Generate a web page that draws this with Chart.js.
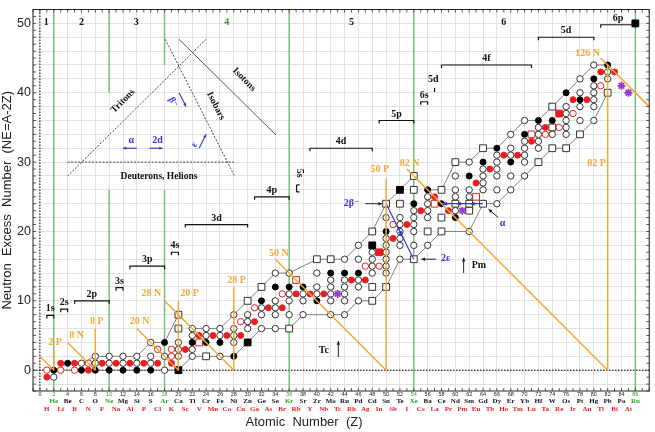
<!DOCTYPE html>
<html>
<head>
<meta charset="utf-8">
<title>Neutron excess chart</title>
<script src="https://cdn.jsdelivr.net/npm/chart.js@4/dist/chart.umd.min.js"></script>
<style>
  html, body { margin: 0; padding: 0; background: #ffffff; }
  canvas { display: block; }
</style>
</head>
<body>
<canvas id="nuclideChart" width="655" height="432"></canvas>
<script>
// =====================================
// DATA   points are [Z, NE] with NE = A - 2Z
// =====================================

// even Z, most abundant isotope
const evenMain = [[2,0],[4,1],[6,0],[8,0],[10,0],[12,0],[14,0],[16,0],[18,4],[22,4],[24,4],[26,4],[28,2],[32,10],[34,12],[36,12],[38,12],[40,10],[42,14],[44,14],[46,14],[50,20],[54,24],[56,26],[58,24],[60,22],[62,28],[64,30],[66,32],[68,30],[70,34],[72,36],[74,36],[76,40],[78,39],[80,42],[82,44]];

// even Z, other stable isotopes
const evenOther = [[2,-1],[6,1],[8,1],[8,2],[10,1],[10,2],[12,1],[12,2],[14,1],[14,2],[16,1],[16,2],[16,4],[18,0],[18,2],[20,2],[20,3],[20,4],[22,2],[22,3],[22,5],[22,6],[24,5],[24,6],[26,2],[26,5],[26,6],[28,4],[28,5],[28,6],[28,8],[30,6],[30,7],[30,8],[32,6],[32,8],[32,9],[34,6],[34,8],[34,9],[34,10],[34,14],[36,8],[36,10],[36,11],[36,14],[38,8],[38,10],[38,11],[40,11],[40,12],[40,14],[42,8],[42,10],[42,11],[42,12],[42,13],[44,8],[44,10],[44,11],[44,12],[44,13],[44,16],[46,10],[46,12],[46,13],[46,16],[46,18],[48,14],[48,15],[48,16],[48,17],[50,14],[50,15],[50,16],[50,17],[50,18],[50,19],[50,22],[52,16],[52,18],[52,19],[52,20],[52,21],[52,22],[54,18],[54,20],[54,21],[54,22],[54,23],[56,18],[56,22],[56,23],[56,24],[56,25],[60,23],[60,25],[60,26],[60,28],[62,20],[62,25],[62,26],[62,30],[64,26],[64,27],[64,28],[64,29],[66,24],[66,26],[66,28],[66,29],[66,30],[66,31],[68,26],[68,28],[68,31],[68,32],[68,34],[70,28],[70,30],[70,31],[70,32],[70,33],[70,36],[72,32],[72,33],[72,34],[72,35],[74,34],[76,34],[76,35],[76,36],[76,37],[76,38],[78,36],[78,38],[78,40],[78,42],[80,36],[80,38],[80,39],[80,40],[80,41],[80,44],[82,42],[82,43]];

// odd Z, most abundant isotope
const oddMain = [[1,-1],[3,1],[5,1],[7,0],[9,1],[11,1],[13,1],[15,1],[17,1],[19,1],[21,3],[23,5],[25,5],[27,5],[29,5],[31,7],[33,9],[35,9],[37,11],[39,11],[41,11],[45,13],[47,13],[51,19],[53,21],[55,23],[57,25],[59,23],[63,27],[65,29],[67,31],[69,31],[71,33],[73,35],[77,39],[79,39],[81,43],[83,43]];

// odd Z, other stable isotopes
const oddOther = [[1,0],[3,0],[5,0],[7,1],[17,3],[19,2],[19,3],[29,7],[31,9],[35,11],[47,15],[49,15],[51,21],[73,34],[75,35],[77,37],[81,41]];

// very long lived (squares)
const evenRare = [[20,6],[20,8],[24,2],[30,10],[32,12],[36,6],[40,16],[42,16],[48,10],[48,12],[48,20],[50,12],[50,24],[52,24],[54,16],[54,26],[54,28],[56,20],[58,20],[58,22],[58,26],[60,24],[60,30],[62,23],[62,24],[64,24],[64,32],[72,30],[74,32],[74,35],[74,38],[76,32],[78,34],[82,40]];
const evenRareMain = [[20,0],[30,4],[48,18],[52,26],[86,50]];
const oddRare = [[23,4],[37,13],[57,24],[63,25],[71,34]];
const oddRareMain = [[49,17],[75,37]];

// elements with no stable isotope
const noStable = [[43,11],[61,23],[84,41],[85,40]];

// band edges
const upperZ  = [2,4,6,8,14,16,18,20,22,24,26,28,30,32,34,36,40,42,44,46,48,50,52,54,56,58,60,62,64,66,68,70,72,74,76,78,80,82];
const upperNE = [0,1,1,2,2,4,4,8,6,6,6,8,10,12,14,14,16,16,16,18,20,24,26,28,26,26,30,30,32,32,34,36,36,38,40,42,44,44];
const lowerZ  = [2,20,22,28,30,32,36,38,42,44,46,48,50,52,54,56,58,62,64,66,68,70,72,74,76,78,80,82];
const lowerNE = [0,0,2,2,4,6,6,8,8,8,10,10,12,16,16,18,20,20,24,24,26,28,30,32,32,34,36,40];

// magic numbers
const magicN     = [2, 8, 20, 28, 50, 82, 126];
const magicNFrom = [0, 4, 14, 18, 34, 53, 81];
const magicNTo   = [2, 8, 20, 28, 50, 82, 88];
const magicP     = [2, 8, 20, 28, 50, 82];
const magicPTop  = [3, 6, 10, 12, 27.6, 44];

// noble gases
const nobleZ = [2, 10, 18, 36, 54, 86];

// tick labels
const evenSymbols = ['', 'He','Be','C','O','Ne','Mg','Si','S','Ar','Ca','Ti','Cr','Fe','Ni','Zn','Ge','Se','Kr','Sr','Zr','Mo','Ru','Pd','Cd','Sn','Te','Xe','Ba','Ce','Nd','Sm','Gd','Dy','Er','Yb','Hf','W','Os','Pt','Hg','Pb','Po','Rn'];
const oddSymbols = ['H','Li','B','N','F','Na','Al','P','Cl','K','Sc','V','Mn','Co','Cu','Ga','As','Br','Rb','Y','Nb','Tc','Rh','Ag','In','Sb','I','Cs','La','Pr','Pm','Eu','Tb','Ho','Tm','Lu','Ta','Re','Ir','Au','Tl','Bi','At'];


// =====================================
// STYLE
// =====================================

const SERIF = '"Liberation Serif", "DejaVu Serif", serif';
const SANS = '"Liberation Sans", Arial, sans-serif';
const GREEN = '#6cbf6c';
const GREEN_TEXT = '#2f9f2f';
const ORANGE = '#f5a733';
const RED = '#ec1c1c';
const BLUE = '#3434d8';
const PURPLE = '#9a3ad0';


// =====================================
// HELPERS
// =====================================

function pts(list){
    return list.map(p => ({x: p[0], y: p[1]}));
}

function marks(list, style, radius, fill, edge, order){
    return {
        data: pts(list),
        showLine: false,
        pointStyle: style,
        pointRadius: radius,
        backgroundColor: fill,
        borderColor: edge,
        borderWidth: 1,
        order: order
    };
}

function path(points, color, width, dash, order){
    return {
        data: points,
        showLine: true,
        pointRadius: 0,
        borderColor: color,
        borderWidth: width,
        borderDash: dash || [],
        fill: false,
        order: order
    };
}

const datasets = [];

// band edges
datasets.push(path(upperZ.map((z,i) => ({x: z, y: upperNE[i]})), '#808080', 1, null, 5));
datasets.push(path(lowerZ.map((z,i) => ({x: z, y: lowerNE[i]})), '#808080', 1, null, 5));

// noble gas columns (cut where the inset sits)
nobleZ.forEach(z => {
    if(z === 10 || z === 18){
        datasets.push(path([{x:z,y:-3},{x:z,y:26}], GREEN, 1.4, null, 6));
        datasets.push(path([{x:z,y:z === 10 ? 40 : 44},{x:z,y:52}], GREEN, 1.4, null, 6));
    } else {
        datasets.push(path([{x:z,y:-3},{x:z,y:52}], GREEN, 1.4, null, 6));
    }
});

// magic neutron lines (NE = N - Z) and proton lines
magicN.forEach((n,i) => {
    datasets.push(path([{x:magicNFrom[i], y:n - magicNFrom[i]}, {x:magicNTo[i], y:n - magicNTo[i]}], ORANGE, 1.5, null, 1));
});
magicP.forEach((p,i) => {
    datasets.push(path([{x:p, y:0}, {x:p, y:magicPTop[i]}], ORANGE, 1.5, null, 1));
});

// inset: decay directions
datasets.push(path([{x:4,y:28},{x:24,y:47.7}], '#333', 0.9, [2,1.5], 4));
datasets.push(path([{x:18.1,y:47.7},{x:28.1,y:28}], '#333', 0.9, [2,1.5], 4));
datasets.push(path([{x:20.1,y:47.7},{x:34.1,y:33.9}], '#444', 0.9, null, 4));
datasets.push(path([{x:4,y:30},{x:28,y:30}], '#333', 0.9, [2,1.5], 4));

// blue decay paths
datasets.push(path([{x:50,y:24},{x:54,y:16}], BLUE, 1.2, null, 1));
datasets.push(path([{x:64,y:24},{x:58,y:24}], BLUE, 1.2, null, 1));

// nuclides
datasets.push(marks(evenOther, 'circle', 3.2, '#ffffff', '#333333', 2));
datasets.push(marks(oddOther, 'circle', 3.2, '#ffffff', RED, 2));
datasets.push(marks(evenMain, 'circle', 3, '#000000', '#000000', 2));
datasets.push(marks(oddMain, 'circle', 3, RED, RED, 2));
datasets.push(marks(evenRare, 'rect', 4.8, '#ffffff', '#333333', 2));
datasets.push(marks(oddRare, 'rect', 4.8, '#ffffff', RED, 2));
datasets.push(marks(evenRareMain, 'rect', 4.8, '#000000', '#000000', 2));
datasets.push(marks(oddRareMain, 'rect', 4.8, RED, RED, 2));
const stars = marks(noStable, 'star', 4, PURPLE, PURPLE, 2);
stars.borderWidth = 1.8;
datasets.push(stars);


// =====================================
// ANNOTATIONS
// =====================================

const periodLabels = [['1',0.9],['2',6],['3',13.9],['4',27],['5',45],['6',67]];

const shellBrackets = [
    ['1s',1,2,7.9], ['2s',3,4,8.8], ['2p',5,10,10], ['3s',11,12,11.9],
    ['3p',13,18,15], ['4s',19,20,17], ['3d',21,30,21], ['4p',31,36,25],
    ['4d',39,48,32], ['5p',49,54,36], ['6s',55,56,38.7], ['4f',58,71,44],
    ['5d',72,80,48], ['6p',81,86,49.8]
];

const magicLabels = [
    ['2 P',2.2,4.05], ['8 N',5.3,5.0], ['8 P',8.2,7.1], ['20 N',14.4,7.0],
    ['28 N',16.1,11], ['20 P',21.6,11], ['28 P',28.4,13], ['50 N',34.5,16.9],
    ['50 P',49.1,28.9], ['82 N',53.4,29.8], ['82 P',80.4,29.8], ['126 N',79.1,45.7]
];

function txt(ctx, s, x, y, font, color, rot, align){
    ctx.save();
    ctx.translate(x, y);
    if(rot) ctx.rotate(rot * Math.PI / 180);
    ctx.font = font;
    ctx.fillStyle = color;
    ctx.textAlign = align || 'center';
    ctx.textBaseline = 'middle';
    ctx.fillText(s, 0, 0);
    ctx.restore();
}

function arrow(ctx, x1, y1, x2, y2, color, width, size){
    ctx.save();
    ctx.strokeStyle = color;
    ctx.fillStyle = color;
    ctx.lineWidth = width;
    ctx.beginPath();
    ctx.moveTo(x1, y1);
    ctx.lineTo(x2, y2);
    ctx.stroke();
    const a = Math.atan2(y2 - y1, x2 - x1);
    ctx.beginPath();
    ctx.moveTo(x2, y2);
    ctx.lineTo(x2 - size * Math.cos(a - 0.45), y2 - size * Math.sin(a - 0.45));
    ctx.lineTo(x2 - size * Math.cos(a + 0.45), y2 - size * Math.sin(a + 0.45));
    ctx.closePath();
    ctx.fill();
    ctx.restore();
}

const overlay = {
    id: 'overlay',

    beforeDatasetsDraw(chart){
        const {ctx, chartArea: a, scales: {x, y}} = chart;
        ctx.save();
        ctx.strokeStyle = '#000';
        ctx.lineWidth = 1;
        ctx.setLineDash([1.5, 1.5]);
        ctx.beginPath();
        ctx.moveTo(a.left, y.getPixelForValue(0));
        ctx.lineTo(a.right, y.getPixelForValue(0));
        ctx.moveTo(x.getPixelForValue(0), a.top);
        ctx.lineTo(x.getPixelForValue(0), a.bottom);
        ctx.stroke();
        ctx.restore();
    },

    afterDatasetsDraw(chart){
        const {ctx, scales: {x, y}} = chart;
        const X = v => x.getPixelForValue(v);
        const Y = v => y.getPixelForValue(v);
        const bold = s => 'bold ' + s + 'px ' + SERIF;

        // period numbers
        periodLabels.forEach(p => {
            txt(ctx, p[0], X(p[1]), Y(50.1), bold(10), p[0] === '4' ? GREEN_TEXT : '#111');
        });

        // shell brackets
        ctx.save();
        ctx.strokeStyle = '#111';
        ctx.lineWidth = 1.2;
        shellBrackets.forEach(s => {
            const x1 = X(s[1]), x2 = X(s[2]), yy = Y(s[3]);
            ctx.beginPath();
            ctx.moveTo(x1, yy + 3);
            ctx.lineTo(x1, yy);
            ctx.lineTo(x2, yy);
            ctx.lineTo(x2, yy + 3);
            ctx.stroke();
            txt(ctx, s[0], (x1 + x2) / 2, yy - 6.5, bold(10), '#111');
        });
        // 5s (rotated) and single 5d at La
        const x5 = X(37.5), y5 = Y(26.2);
        ctx.beginPath();
        ctx.moveTo(x5 - 3, y5 - 3.5);
        ctx.lineTo(x5 - 3, y5 + 3.5);
        ctx.moveTo(x5 - 3, y5 - 3.5);
        ctx.lineTo(x5, y5 - 3.5);
        ctx.moveTo(x5 - 3, y5 + 3.5);
        ctx.lineTo(x5, y5 + 3.5);
        ctx.stroke();
        ctx.beginPath();
        ctx.moveTo(X(57), Y(40.1));
        ctx.lineTo(X(57), Y(40.7));
        ctx.stroke();
        ctx.restore();
        txt(ctx, '5s', X(37.5), Y(28.4), bold(10), '#111', 90);
        txt(ctx, '5d', X(56.8), Y(41.9), bold(10), '#111');

        // magic number labels
        magicLabels.forEach(m => txt(ctx, m[0], X(m[1]), Y(m[2]), bold(10), ORANGE));

        // decay annotations
        txt(ctx, '2β⁻', X(45), Y(24), bold(10), BLUE);
        arrow(ctx, X(47), Y(24), X(49.4), Y(24), '#222', 1, 4);
        txt(ctx, '2ε', X(58.6), Y(16.1), bold(10), BLUE);
        arrow(ctx, X(57.2), Y(16), X(55.1), Y(16), '#222', 1, 4);
        txt(ctx, 'α', X(66.8), Y(21.1), bold(10), BLUE);
        arrow(ctx, X(66.2), Y(22), X(64.8), Y(23.2), '#222', 1, 4);
        txt(ctx, 'Tc', X(41), Y(2.9), bold(10), '#111');
        arrow(ctx, X(43.1), Y(1.9), X(43.1), Y(4.2), '#222', 1, 4);
        txt(ctx, 'Pm', X(63.4), Y(15.1), bold(10), '#111');
        ctx.save();
        arrow(ctx, X(61.2), Y(14), X(61.2), Y(16.2), '#222', 1, 4);
        ctx.restore();

        // arrow heads on the blue paths
        arrow(ctx, X(51.6), Y(20.8), X(52.3), Y(19.4), BLUE, 1.2, 5);
        arrow(ctx, X(63), Y(24), X(62.2), Y(24), BLUE, 1.2, 4.5);
        arrow(ctx, X(61), Y(24), X(60.2), Y(24), BLUE, 1.2, 4.5);
        arrow(ctx, X(59), Y(24), X(58.2), Y(24), BLUE, 1.2, 4.5);

        // inset text
        txt(ctx, 'Tritons', X(12), Y(38.8), bold(9.5), '#111', -45);
        txt(ctx, 'Isobars', X(25.4), Y(38.1), bold(9.5), '#111', 63);
        txt(ctx, 'Isotons', X(29.5), Y(41.9), bold(9.5), '#111', 45);
        txt(ctx, 'Deuterons, Helions', X(17.2), Y(27.9), bold(9.5), '#111');
        txt(ctx, 'α', X(13.2), Y(33.1), bold(10), BLUE);
        arrow(ctx, X(14), Y(32), X(12), Y(32), BLUE, 1.1, 3.5);
        txt(ctx, '2d', X(17.0), Y(33.1), bold(10), BLUE);
        arrow(ctx, X(15.8), Y(32), X(17.7), Y(32), BLUE, 1.1, 3.5);
        txt(ctx, 'β⁻', X(19.2), Y(38.6), bold(9.5), BLUE, 63);
        arrow(ctx, X(20.1), Y(40), X(21.1), Y(38), BLUE, 1.1, 3.5);
        txt(ctx, 'ε', X(22.3), Y(32.5), bold(9.5), BLUE, -60);
        arrow(ctx, X(23), Y(32), X(24), Y(34), BLUE, 1.1, 3.5);
    },

    afterDraw(chart){
        const {ctx, chartArea: a, scales: {x, y}} = chart;
        ctx.save();
        // small inward ticks
        ctx.strokeStyle = '#333';
        ctx.lineWidth = 0.8;
        ctx.beginPath();
        for(let v = -1; v <= 88; v++){
            const px = x.getPixelForValue(v);
            ctx.moveTo(px, a.top); ctx.lineTo(px, a.top + 3);
            ctx.moveTo(px, a.bottom); ctx.lineTo(px, a.bottom - 3);
        }
        for(let v = -3; v <= 52; v++){
            const py = y.getPixelForValue(v);
            ctx.moveTo(a.left, py); ctx.lineTo(a.left + 3, py);
            ctx.moveTo(a.right, py); ctx.lineTo(a.right - 3, py);
        }
        ctx.stroke();
        // frame
        ctx.strokeStyle = '#222';
        ctx.lineWidth = 1;
        ctx.strokeRect(a.left, a.top, a.right - a.left, a.bottom - a.top);
        ctx.restore();
        // x title
        txt(ctx, 'Atomic  Number  (Z)', 304, 422, '13px ' + SANS, '#222');
    }
};


// =====================================
// CHART
// =====================================

const nuclideChart =
new Chart(

    document.getElementById("nuclideChart"),

    {
        type: "scatter",

        data: { datasets: datasets },

        options: {
            responsive: false,
            animation: false,
            events: [],
            layout: { padding: { top: 6, right: 3.4, left: 0, bottom: 0 } },
            plugins: {
                legend: { display: false },
                tooltip: { enabled: false }
            },
            scales: {
                x: {
                    type: "linear",
                    min: -1,
                    max: 88,
                    position: "bottom",
                    weight: 0,
                    afterBuildTicks: s => { s.ticks = evenSymbols.concat(['']).map((_, i) => ({value: 2 * i})); },
                    afterFit: s => { s.height = 6; },
                    grid: { color: "#e2e2e2", drawTicks: false },
                    border: { display: false },
                    ticks: {
                        autoSkip: false,
                        maxRotation: 0,
                        padding: 0,
                        font: { size: 5.5, family: SANS },
                        color: c => nobleZ.includes(c.tick.value) ? GREEN_TEXT : "#222",
                        callback: v => v <= 86 ? String(v) : ""
                    }
                },
                xs: {
                    type: "linear",
                    axis: "x",
                    min: -1,
                    max: 88,
                    position: "bottom",
                    weight: 1,
                    afterBuildTicks: s => { s.ticks = evenSymbols.map((_, i) => ({value: 2 * i})); },
                    afterFit: s => { s.height = 8; },
                    grid: { display: false, drawTicks: false },
                    border: { display: false },
                    ticks: {
                        autoSkip: false,
                        maxRotation: 0,
                        padding: 0.3,
                        font: { size: 7, family: SERIF, weight: "bold" },
                        color: c => nobleZ.includes(c.tick.value) ? GREEN_TEXT : "#111",
                        callback: (v, i) => evenSymbols[i]
                    }
                },
                xo: {
                    type: "linear",
                    axis: "x",
                    min: -1,
                    max: 88,
                    position: "bottom",
                    weight: 2,
                    afterBuildTicks: s => { s.ticks = oddSymbols.map((_, i) => ({value: 2 * i + 1})); },
                    afterFit: s => { s.height = 27; },
                    grid: { display: false, drawTicks: false },
                    border: { display: false },
                    ticks: {
                        autoSkip: false,
                        maxRotation: 0,
                        padding: 0.3,
                        font: { size: 7, family: SERIF, weight: "bold" },
                        color: RED,
                        callback: (v, i) => oddSymbols[i]
                    }
                },
                y: {
                    type: "linear",
                    min: -3,
                    max: 52,
                    afterBuildTicks: s => {
                        const t = [];
                        for(let v = -2; v <= 52; v += 2) t.push({value: v});
                        s.ticks = t;
                    },
                    afterFit: s => { s.width = 33; },
                    grid: { color: "#e2e2e2", drawTicks: false },
                    border: { display: false },
                    title: {
                        display: true,
                        text: "Neutron  Excess  Number  (NE=A-2Z)",
                        font: { size: 13, family: SANS },
                        color: "#222",
                        padding: { top: 0, bottom: 0 }
                    },
                    ticks: {
                        autoSkip: false,
                        padding: 2,
                        font: { size: 12.5, family: SANS },
                        color: "#222",
                        callback: v => v % 10 === 0 ? String(v) : ""
                    }
                }
            }
        },

        plugins: [overlay]
    }
);
</script>
</body>
</html>
